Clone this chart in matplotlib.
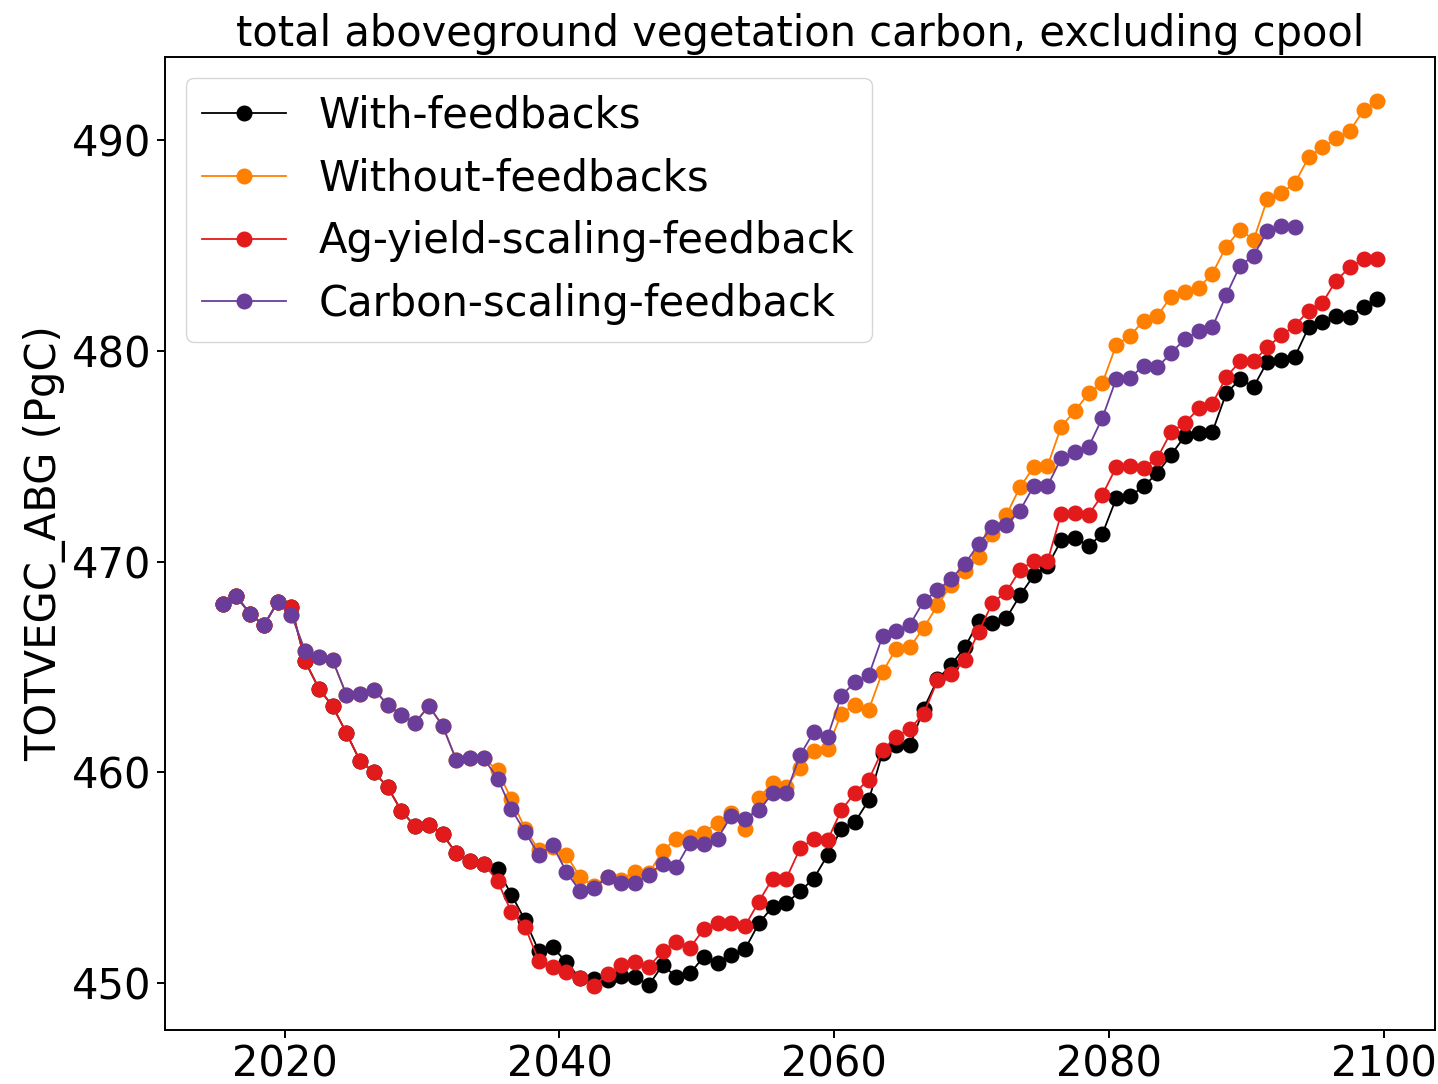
import numpy as np
from matplotlib import pyplot as plt

# mid-year time axis
years = np.arange(2015.5, 2100)

with_fb = [468.00, 468.34, 467.52, 466.97, 468.08, 467.84, 465.26, 463.97, 463.13, 461.86,
           460.52, 460.01, 459.30, 458.16, 457.43, 457.48, 457.05, 456.14, 455.79, 455.66,
           455.39, 454.19, 452.97, 451.50, 451.71, 450.97, 450.21, 450.18, 450.13, 450.34,
           450.29, 449.89, 450.84, 450.29, 450.45, 451.24, 450.92, 451.32, 451.60, 452.82,
           453.61, 453.77, 454.35, 454.95, 456.06, 457.29, 457.64, 458.67, 460.93, 461.28,
           461.28, 463.02, 464.40, 465.10, 465.94, 467.16, 467.10, 467.30, 468.39, 469.34,
           469.79, 471.00, 471.12, 470.74, 471.32, 473.01, 473.09, 473.58, 474.20, 475.07,
           475.96, 476.10, 476.16, 477.98, 478.65, 478.30, 479.49, 479.57, 479.73, 481.12,
           481.39, 481.67, 481.63, 482.07, 482.47]

without_fb = [468.00, 468.34, 467.52, 466.97, 468.08, 467.48, 465.74, 465.47, 465.31, 463.68,
              463.73, 463.92, 463.21, 462.70, 462.35, 463.14, 462.20, 460.57, 460.65, 460.65,
              460.09, 458.71, 457.32, 456.29, 456.45, 456.06, 455.03, 454.60, 455.03, 454.90,
              455.27, 455.20, 456.25, 456.85, 456.93, 457.13, 457.61, 458.08, 457.32, 458.78,
              459.49, 459.30, 460.20, 460.99, 461.12, 462.78, 463.21, 462.97, 464.76, 465.86,
              465.94, 466.86, 467.92, 468.90, 469.53, 470.21, 471.32, 472.19, 473.53, 474.48,
              474.53, 476.40, 477.16, 477.98, 478.48, 480.28, 480.70, 481.44, 481.67, 482.58,
              482.81, 482.99, 483.67, 484.95, 485.74, 485.28, 487.21, 487.48, 487.97, 489.19,
              489.66, 490.09, 490.45, 491.43, 491.85]

ag_yield = [468.00, 468.34, 467.52, 466.97, 468.08, 467.84, 465.26, 463.97, 463.13, 461.86,
            460.52, 460.01, 459.30, 458.16, 457.43, 457.48, 457.05, 456.14, 455.79, 455.66,
            454.82, 453.37, 452.66, 451.03, 450.74, 450.53, 450.21, 449.86, 450.40, 450.84,
            450.97, 450.76, 451.50, 451.95, 451.67, 452.55, 452.82, 452.82, 452.70, 453.85,
            454.95, 454.95, 456.38, 456.85, 456.77, 458.19, 459.03, 459.65, 461.04, 461.68,
            462.07, 462.78, 464.36, 464.68, 465.31, 466.66, 468.05, 468.55, 469.60, 470.03,
            470.01, 472.27, 472.30, 472.23, 473.17, 474.48, 474.53, 474.43, 474.92, 476.16,
            476.57, 477.27, 477.50, 478.75, 479.50, 479.51, 480.18, 480.73, 481.20, 481.91,
            482.28, 483.34, 483.97, 484.36, 484.36]

carbon_scaling = [468.00, 468.34, 467.52, 466.97, 468.08, 467.48, 465.74, 465.47, 465.31, 463.68,
                  463.73, 463.92, 463.21, 462.70, 462.35, 463.14, 462.20, 460.57, 460.65, 460.65,
                  459.70, 458.24, 457.17, 456.06, 456.53, 455.27, 454.35, 454.48, 455.03, 454.72,
                  454.72, 455.14, 455.66, 455.51, 456.66, 456.61, 456.85, 457.93, 457.77, 458.19,
                  458.99, 459.02, 460.80, 461.91, 461.68, 463.62, 464.28, 464.60, 466.45, 466.70,
                  467.01, 468.12, 468.63, 469.18, 469.89, 470.84, 471.66, 471.73, 472.42, 473.58,
                  473.58, 474.91, 475.20, 475.45, 476.83, 478.65, 478.72, 479.30, 479.22, 479.90,
                  480.57, 480.92, 481.13, 482.64, 484.03, 484.52, 485.71, 485.94, 485.87]

series = [
    ("With-feedbacks", with_fb, "black"),
    ("Without-feedbacks", without_fb, "#ff7f00"),
    ("Ag-yield-scaling-feedback", ag_yield, "#e31a1c"),
    ("Carbon-scaling-feedback", carbon_scaling, "#6a3d9a"),
]

plt.rcParams["font.size"] = 30

fig = plt.figure(figsize=(14.38, 10.84), dpi=100)
ax = fig.add_axes([0.1147, 0.0498, 0.8833, 0.8976])

for label, vals, color in series:
    ax.plot(years[:len(vals)], vals, color=color, marker="o", markersize=10.5,
            linewidth=1.3, label=label)

ax.set_title("total aboveground vegetation carbon, excluding cpool", fontsize=30, pad=8)
ax.set_ylabel("TOTVEGC_ABG (PgC)")
ax.set_xticks([2020, 2040, 2060, 2080, 2100])
ax.set_yticks([450, 460, 470, 480, 490])
ax.tick_params(length=6.1, width=1.4)
for sp in ax.spines.values():
    sp.set_linewidth(1.4)
ax.legend(loc="upper left")

plt.savefig("out.png", dpi=100)
